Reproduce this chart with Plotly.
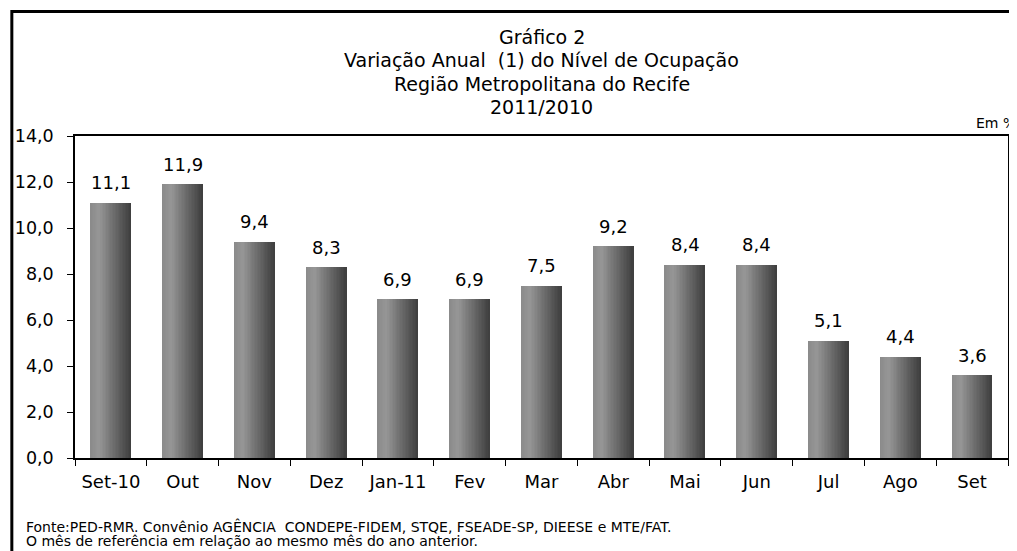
import plotly.graph_objects as go

categories = ["Set-10", "Out", "Nov", "Dez", "Jan-11", "Fev", "Mar", "Abr", "Mai", "Jun", "Jul", "Ago", "Set"]
values = [11.1, 11.9, 9.4, 8.3, 6.9, 6.9, 7.5, 9.2, 8.4, 8.4, 5.1, 4.4, 3.6]
y_ticks = [0, 2, 4, 6, 8, 10, 12, 14]

title_lines = ["Gráfico 2", "Variação Anual  (1) do Nível de Ocupação",
               "Região Metropolitana do Recife", "2011/2010"]
footnotes = ["Fonte:PED-RMR. Convênio AGÊNCIA  CONDEPE-FIDEM, STQE, FSEADE-SP, DIEESE e MTE/FAT.",
             "O mês de referência em relação ao mesmo mês do ano anterior."]

# page body has an 8px margin: work in window pixels and shift
OFF = 8
W, H = 1017 - OFF, 551 - OFF
L, R, T, B = 72 - OFF, 1010 - OFF, 136 - OFF, 458 - OFF
FONT = "DejaVu Sans"

def px_x(p):
    return (p - OFF - L) / (R - L)

def px_y(p):
    return (B - (p - OFF)) / (B - T)

fig = go.Figure()

# gradient bars made of thin overlaid slices
N = 28
bar_w = 0.56
slice_w = bar_w / N
for i in range(N):
    t = (i + 0.5) / N
    if t < 0.22:
        g = 138 + (150 - 138) * t / 0.22
    else:
        g = 150 - (150 - 62) * (t - 0.22) / 0.78
    g = int(round(g))
    fig.add_trace(go.Bar(
        x=categories, y=values,
        width=slice_w * 1.15, offset=-bar_w / 2 + i * slice_w,
        marker=dict(color=f"rgb({g},{g},{g})", line=dict(width=0)),
        showlegend=False, hoverinfo="skip",
    ))

# data labels
for c, v in zip(categories, values):
    fig.add_annotation(x=c, y=v, text=f"{v:.1f}".replace(".", ","), showarrow=False,
                       yshift=20, font=dict(family=FONT, size=18, color="black"))

# title
for k, line in enumerate(title_lines):
    fig.add_annotation(xref="paper", yref="paper", x=0.5, y=px_y(37 + k * 23.3),
                       text=line, showarrow=False, xanchor="center", yanchor="middle",
                       font=dict(family=FONT, size=19, color="black"))

# Em %
fig.add_annotation(xref="paper", yref="paper", x=px_x(976), y=px_y(123), text="Em %",
                   showarrow=False, xanchor="left", yanchor="middle",
                   font=dict(family=FONT, size=14, color="black"))

# footnotes
for k, line in enumerate(footnotes):
    fig.add_annotation(xref="paper", yref="paper", x=px_x(21), y=px_y(526 + k * 14.5),
                       text=line, showarrow=False, xanchor="left", yanchor="middle",
                       font=dict(family=FONT, size=14, color="black"))

# outer frame
fig.add_shape(type="rect", xref="paper", yref="paper",
              x0=px_x(8.5), y0=px_y(620), x1=px_x(1080), y1=px_y(11.5),
              line=dict(color="black", width=3), fillcolor="rgba(0,0,0,0)", layer="above")

fig.update_layout(
    width=W, height=H,
    margin=dict(l=L, r=W - R, t=T, b=H - B, pad=0),
    barmode="overlay", bargap=0,
    paper_bgcolor="white", plot_bgcolor="white",
    separators=",.",
    font=dict(family=FONT, color="black"),
    showlegend=False,
    xaxis=dict(
        type="category", showline=True, linecolor="black", linewidth=1.5, mirror=True,
        ticks="outside", tickson="boundaries", ticklen=6, tickwidth=1.2, tickcolor="black",
        tickfont=dict(family=FONT, size=18, color="black"), ticklabelstandoff=7,
        showgrid=False, zeroline=False,
    ),
    yaxis=dict(
        range=[0, 14], tickvals=y_ticks, tickformat=".1f",
        showline=True, linecolor="black", linewidth=1.5, mirror=True,
        ticks="outside", ticklen=6, tickwidth=1.2, tickcolor="black",
        tickfont=dict(family=FONT, size=17.5, color="black"), ticklabelstandoff=10,
        showgrid=False, zeroline=False,
    ),
)

fig.write_html("out.html")
